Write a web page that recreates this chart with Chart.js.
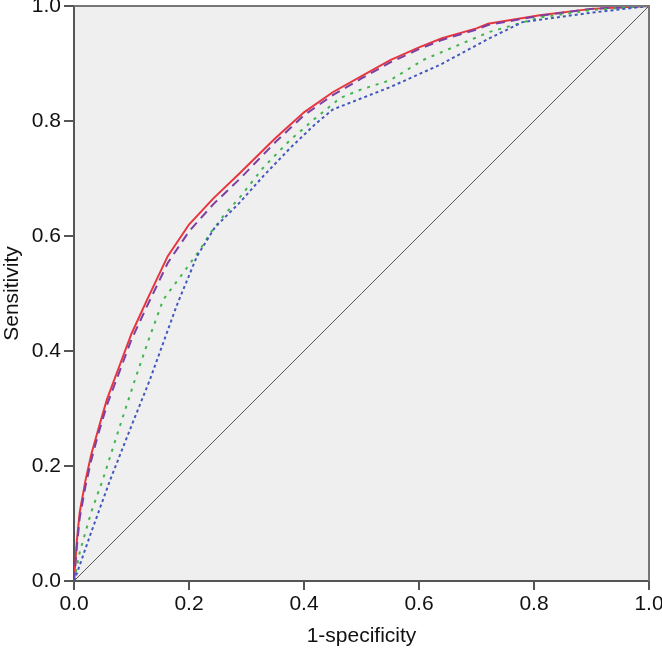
<!DOCTYPE html>
<html>
<head>
<meta charset="utf-8">
<script src="https://cdn.jsdelivr.net/npm/chart.js@4"></script>
<style>
  html, body { margin: 0; padding: 0; background: #fff; }
  #wrap { width: 662px; height: 649px; }
</style>
</head>
<body>
<div id="wrap"><canvas id="roc" width="662" height="649"></canvas></div>
<script>
// ROC curves
const redX = [0, 0.005, 0.01, 0.02, 0.03, 0.042, 0.057, 0.07, 0.1, 0.127, 0.163, 0.2, 0.242, 0.289, 0.35, 0.4, 0.45, 0.5, 0.55, 0.6, 0.64, 0.7, 0.72, 0.81, 0.9, 1];
const redY = [0, 0.07, 0.12, 0.175, 0.22, 0.263, 0.315, 0.35, 0.43, 0.489, 0.565, 0.62, 0.665, 0.71, 0.77, 0.815, 0.85, 0.878, 0.906, 0.928, 0.944, 0.961, 0.969, 0.984, 0.995, 1];

const purpleX = [0, 0.005, 0.01, 0.02, 0.03, 0.042, 0.057, 0.07, 0.1, 0.127, 0.163, 0.2, 0.242, 0.289, 0.35, 0.4, 0.45, 0.5, 0.55, 0.6, 0.64, 0.7, 0.72, 0.81, 0.9, 1];
const purpleY = [0, 0.06, 0.11, 0.165, 0.21, 0.255, 0.305, 0.34, 0.42, 0.478, 0.553, 0.608, 0.655, 0.7, 0.763, 0.81, 0.845, 0.874, 0.902, 0.925, 0.941, 0.959, 0.967, 0.983, 0.995, 1];

const greenX = [0, 0.01, 0.03, 0.05, 0.08, 0.106, 0.13, 0.155, 0.19, 0.219, 0.237, 0.26, 0.289, 0.33, 0.376, 0.42, 0.463, 0.5, 0.55, 0.607, 0.64, 0.723, 0.81, 0.9, 1];
const greenY = [0, 0.05, 0.12, 0.176, 0.27, 0.35, 0.42, 0.489, 0.536, 0.576, 0.605, 0.635, 0.668, 0.72, 0.767, 0.805, 0.84, 0.855, 0.871, 0.906, 0.92, 0.955, 0.98, 0.993, 1];

const blueX = [0, 0.007, 0.03, 0.063, 0.1, 0.132, 0.179, 0.214, 0.245, 0.289, 0.33, 0.376, 0.42, 0.45, 0.55, 0.637, 0.723, 0.78, 0.897, 1];
const blueY = [0, 0.019, 0.085, 0.176, 0.27, 0.35, 0.48, 0.565, 0.615, 0.659, 0.705, 0.753, 0.795, 0.82, 0.859, 0.898, 0.944, 0.972, 0.988, 1];

const diagX = [0, 1];
const diagY = [0, 1];

const xTicks = [0, 0.2, 0.4, 0.6, 0.8, 1.0];
const yTicks = [0, 0.2, 0.4, 0.6, 0.8, 1.0];

const axisColor = '#555';
const FONT = { family: "'Liberation Sans', Arial, sans-serif", size: 21 };

function pts(xs, ys) {
  return xs.map((x, i) => ({ x, y: ys[i] }));
}

// plot background + top/right frame
const frame = {
  id: 'frame',
  beforeDraw(chart) {
    const { ctx, chartArea: a } = chart;
    ctx.save();
    ctx.fillStyle = '#f0efef';
    ctx.fillRect(a.left, a.top, a.right - a.left, a.bottom - a.top);
    ctx.restore();
  },
  afterDraw(chart) {
    const { ctx, chartArea: a } = chart;
    ctx.save();
    ctx.strokeStyle = '#777';
    ctx.lineWidth = 2;
    ctx.beginPath();
    ctx.moveTo(a.left, a.top);
    ctx.lineTo(a.right, a.top);
    ctx.lineTo(a.right, a.bottom);
    ctx.stroke();
    ctx.restore();
  }
};

const line = (data, color, width, dash) => ({
  data,
  borderColor: color,
  borderWidth: width,
  borderDash: dash,
  pointRadius: 0,
  fill: false,
  tension: 0
});

new Chart(document.getElementById('roc'), {
  type: 'line',
  data: {
    datasets: [
      line(pts(diagX, diagY), '#555', 1, []),
      line(pts(blueX, blueY), '#4358bd', 2, [3, 3]),
      line(pts(greenX, greenY), '#3fb54c', 2, [3, 6]),
      line(pts(purpleX, purpleY), '#7c3fa3', 2, [9, 6]),
      line(pts(redX, redY), '#e8363f', 2, [])
    ]
  },
  options: {
    responsive: false,
    animation: false,
    layout: { padding: { top: 6, right: 13, left: 0, bottom: 0 } },
    plugins: { legend: { display: false }, tooltip: { enabled: false } },
    scales: {
      x: {
        type: 'linear',
        min: 0, max: 1,
        afterBuildTicks: s => { s.ticks = xTicks.map(v => ({ value: v })); },
        afterFit: s => { s.height = 68; s.paddingLeft = 0; s.paddingRight = 0; },
        ticks: { font: FONT, color: '#111', padding: 2, maxRotation: 0, callback: v => v.toFixed(1) },
        grid: { drawOnChartArea: false, drawTicks: true, tickLength: 9, color: axisColor, lineWidth: 2 },
        border: { display: true, color: axisColor, width: 2 },
        title: { display: true, text: '1-specificity', font: FONT, color: '#111', padding: { top: 0, bottom: 0 } }
      },
      y: {
        type: 'linear',
        min: 0, max: 1,
        afterBuildTicks: s => { s.ticks = yTicks.map(v => ({ value: v })); },
        afterFit: s => { s.width = 74; s.paddingTop = 0; s.paddingBottom = 0; },
        ticks: { font: FONT, color: '#111', padding: 3, callback: v => v.toFixed(1) },
        grid: { drawOnChartArea: false, drawTicks: true, tickLength: 10, color: axisColor, lineWidth: 2 },
        border: { display: true, color: axisColor, width: 2 },
        title: { display: true, text: 'Sensitivity', font: FONT, color: '#111', padding: { top: 0, bottom: 0 } }
      }
    }
  },
  plugins: [frame]
});
</script>
</body>
</html>
